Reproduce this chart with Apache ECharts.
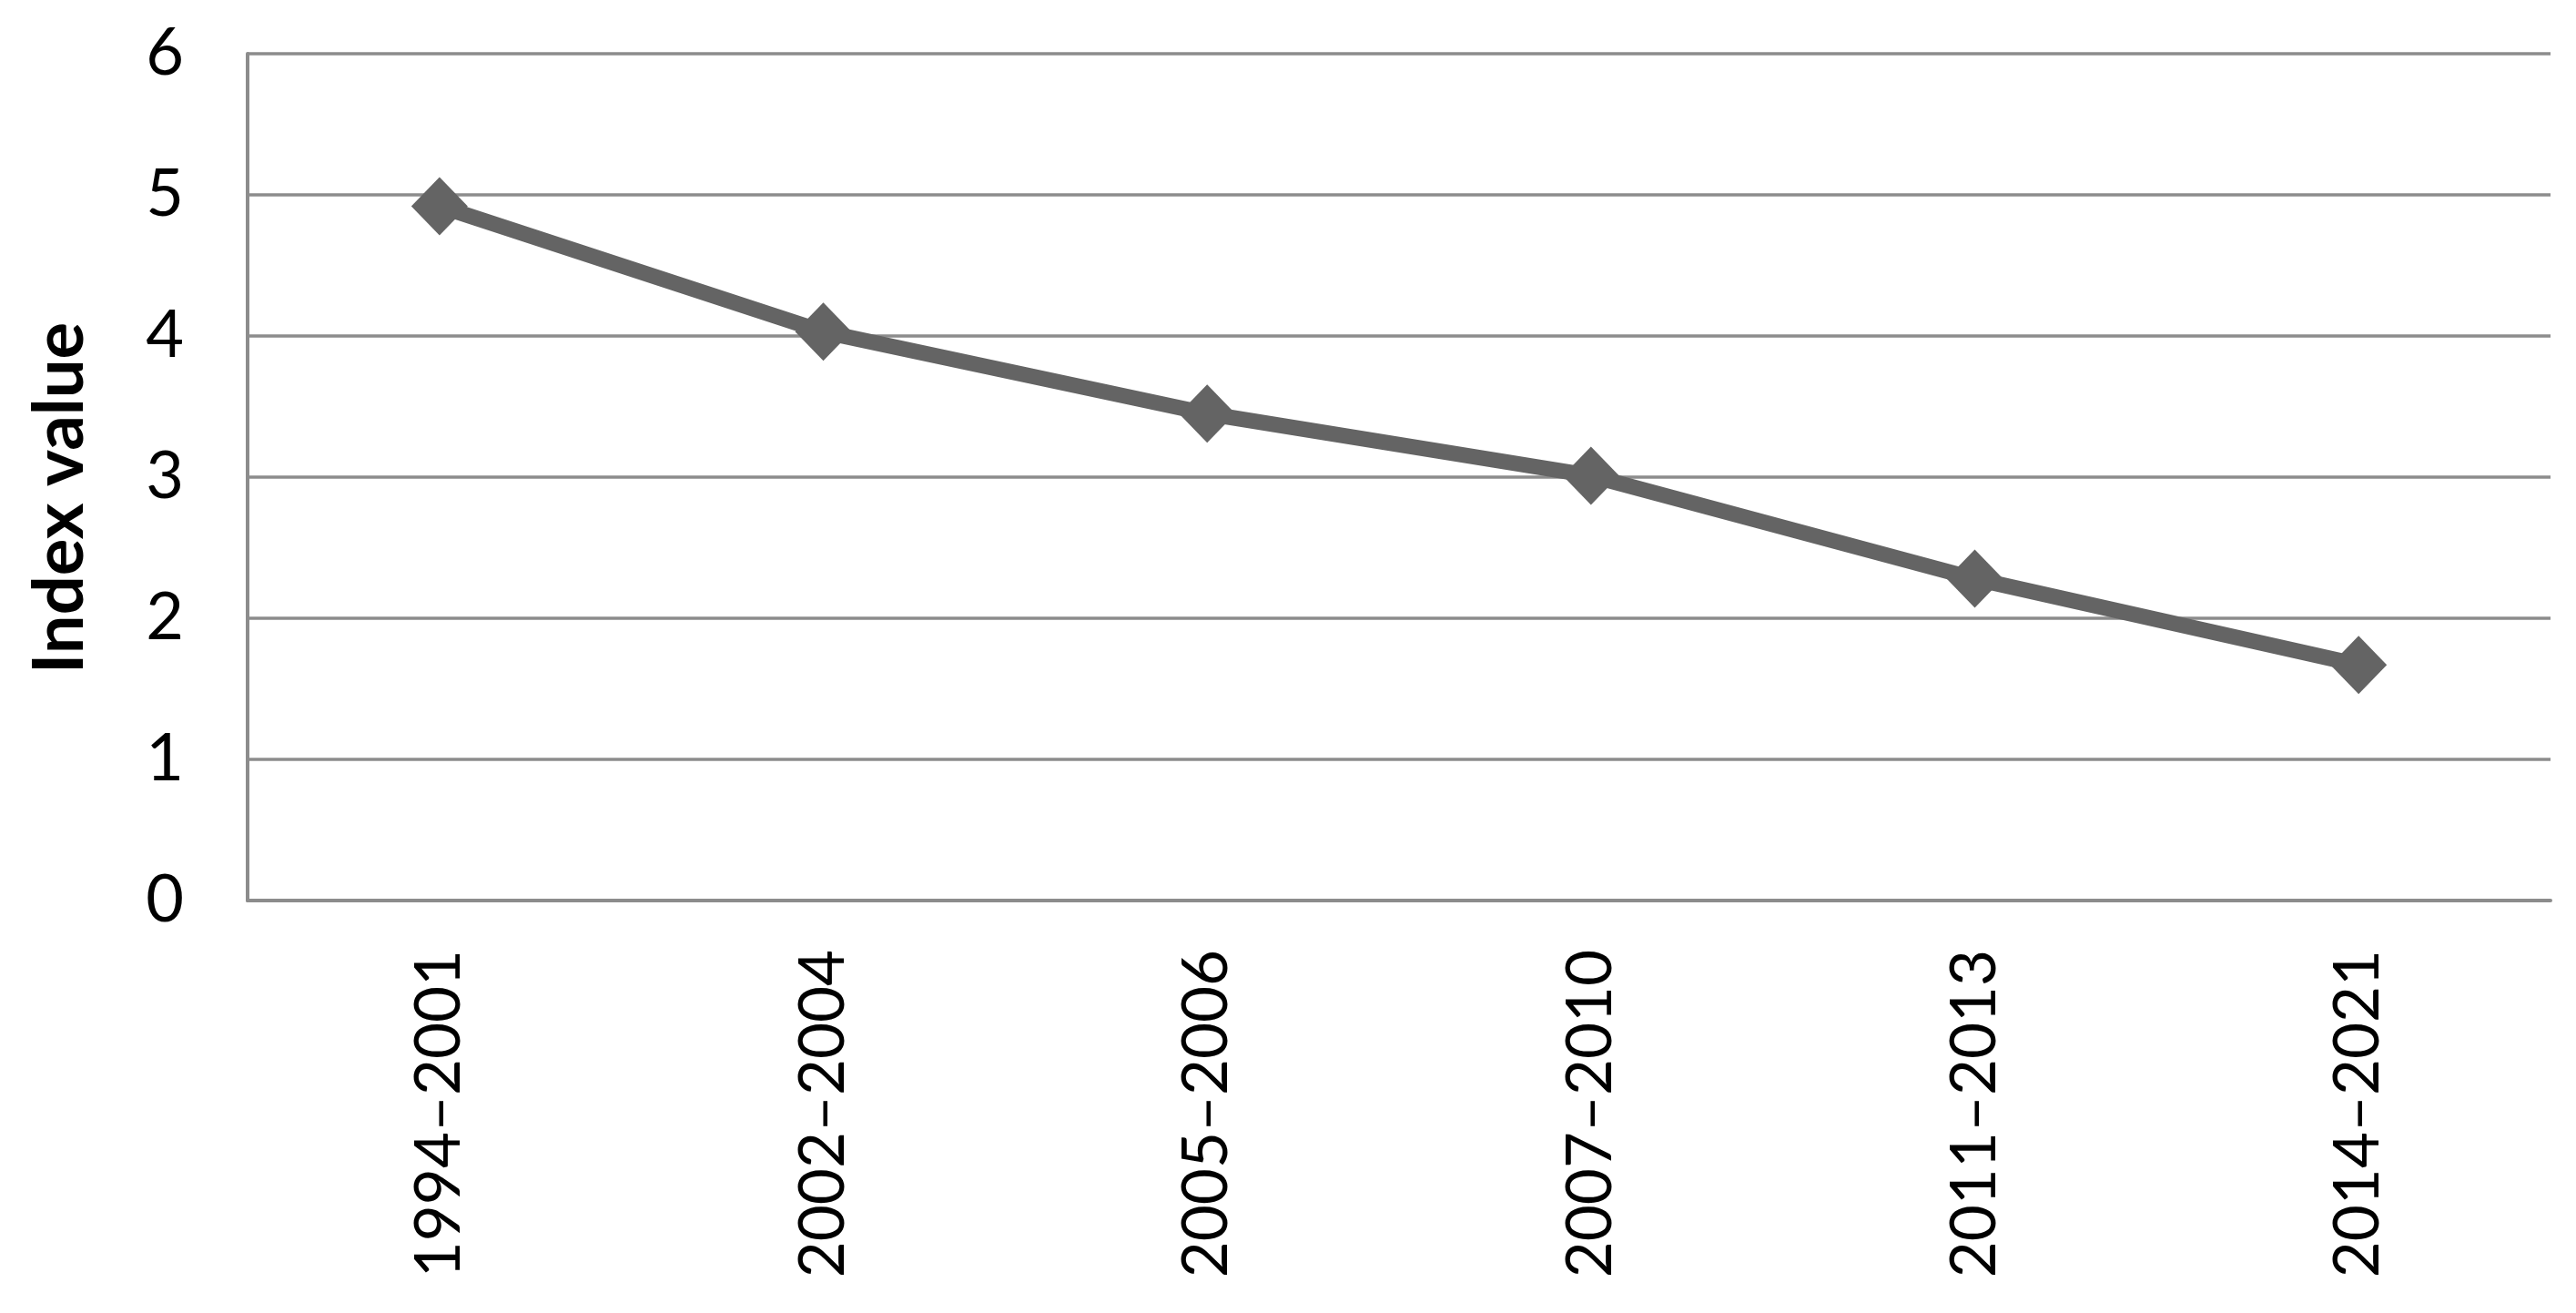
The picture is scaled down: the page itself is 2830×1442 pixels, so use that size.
<!DOCTYPE html>
<html>
<head>
<meta charset="utf-8">
<script src="https://cdn.jsdelivr.net/npm/echarts@6/dist/echarts.min.js"></script>
<style>
  html, body { margin: 0; padding: 0; background: #ffffff; }
  #chart { width: 2830px; height: 1442px; }
</style>
</head>
<body>
<div id="chart"></div>
<script>
const categories = ['1994–2001', '2002–2004', '2005–2006', '2007–2010', '2011–2013', '2014–2021'];
const indexValues = [4.92, 4.03, 3.45, 3.01, 2.28, 1.67];
const yTicks = [0, 1, 2, 3, 4, 5, 6];
const yAxisTitle = 'Index value';

const chart = echarts.init(document.getElementById('chart'), null, { renderer: 'canvas' });
const fontFamily = 'Lato, "Open Sans", "Liberation Sans", sans-serif';

chart.setOption({
  animation: false,
  backgroundColor: '#ffffff',
  grid: { left: 272, right: 28, top: 59, bottom: 453, containLabel: false },
  xAxis: {
    type: 'category',
    data: categories,
    boundaryGap: true,
    axisLine: { show: true, lineStyle: { color: '#8c8c8c', width: 4 } },
    axisTick: { show: false },
    splitLine: { show: false },
    axisLabel: {
      rotate: 90,
      margin: 54,
      interval: 0,
      color: '#000000',
      fontFamily: fontFamily,
      fontSize: 69
    }
  },
  yAxis: {
    type: 'value',
    min: yTicks[0],
    max: yTicks[yTicks.length - 1],
    interval: 1,
    name: yAxisTitle,
    nameLocation: 'middle',
    nameRotate: 90,
    nameGap: 168,
    nameTextStyle: {
      color: '#000000',
      fontFamily: fontFamily,
      fontSize: 76,
      fontWeight: 'bold',
      padding: [0, 46, 0, 0]
    },
    axisLine: { show: true, lineStyle: { color: '#8c8c8c', width: 4 } },
    axisTick: { show: false },
    splitLine: { show: true, lineStyle: { color: '#8c8c8c', width: 3.5 } },
    axisLabel: {
      margin: 70,
      color: '#000000',
      fontFamily: fontFamily,
      fontSize: 72
    }
  },
  series: [{
    type: 'line',
    data: indexValues,
    symbol: 'diamond',
    symbolSize: [62, 64],
    lineStyle: { color: '#646464', width: 17 },
    itemStyle: { color: '#646464' },
    z: 3
  }]
});
</script>
</body>
</html>
